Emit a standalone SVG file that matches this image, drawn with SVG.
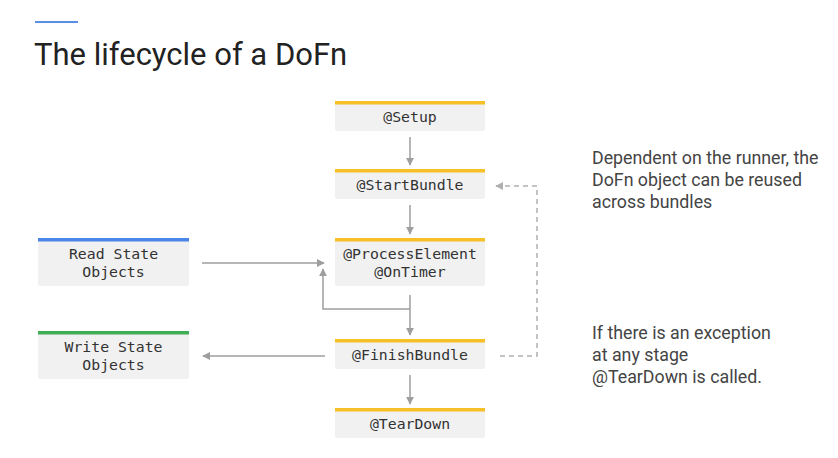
<svg xmlns="http://www.w3.org/2000/svg" width="838" height="458" viewBox="0 0 838 458">
<style>
.box{fill:#f1f1f1}
.ybar{fill:#f6c026}
.mono{font-family:"DejaVu Sans Mono","Liberation Mono",monospace;font-size:14.8px;fill:#333;text-anchor:middle}
.note{font-family:Roboto,"Liberation Sans",sans-serif;font-size:17.8px;fill:#444}
.ln{stroke:#9e9e9e;stroke-width:1.5;fill:none}
.dash{stroke:#b0b0b0;stroke-width:1.5;fill:none;stroke-dasharray:5,4}
</style>
<defs>
<marker id="ah" viewBox="0 0 10 10" refX="9" refY="5" markerWidth="8" markerHeight="8" markerUnits="userSpaceOnUse" orient="auto">
<path d="M0,0 L10,5 L0,10 z" fill="#9e9e9e"/>
</marker>
<marker id="ahd" viewBox="0 0 10 10" refX="9" refY="5" markerWidth="8" markerHeight="8" markerUnits="userSpaceOnUse" orient="auto">
<path d="M0,0 L10,5 L0,10 z" fill="#b0b0b0"/>
</marker>
</defs>
<rect width="838" height="458" fill="#ffffff"/>
<rect x="35" y="21" width="43" height="2" fill="#5b8fe6"/>
<text x="34" y="65" font-family="Roboto,'Liberation Sans',sans-serif" font-size="31" fill="#222">The lifecycle of a DoFn</text>

<g id="setup"><rect class="box" x="335" y="101" width="150" height="30" rx="2"/><rect class="ybar" x="335" y="101" width="150" height="3.5"/><text class="mono" x="410" y="122">@Setup</text></g>
<g id="startbundle"><rect class="box" x="335" y="169" width="150" height="30" rx="2"/><rect class="ybar" x="335" y="169" width="150" height="3.5"/><text class="mono" x="410" y="190">@StartBundle</text></g>
<g id="processelement"><rect class="box" x="335" y="238" width="150" height="48" rx="2"/><rect class="ybar" x="335" y="238" width="150" height="3.5"/><text class="mono" x="410" y="259">@ProcessElement</text><text class="mono" x="410" y="277">@OnTimer</text></g>
<g id="finishbundle"><rect class="box" x="335" y="339" width="150" height="30" rx="2"/><rect class="ybar" x="335" y="339" width="150" height="3.5"/><text class="mono" x="410" y="360">@FinishBundle</text></g>
<g id="teardown"><rect class="box" x="335" y="408" width="150" height="30" rx="2"/><rect class="ybar" x="335" y="408" width="150" height="3.5"/><text class="mono" x="410" y="429">@TearDown</text></g>
<g id="readstate"><rect class="box" x="38" y="238" width="151" height="48" rx="2"/><rect x="38" y="238" width="151" height="3.5" fill="#4a86e8"/><text class="mono" x="113.5" y="259">Read State</text><text class="mono" x="113.5" y="277">Objects</text></g>
<g id="writestate"><rect class="box" x="38" y="331" width="151" height="48" rx="2"/><rect x="38" y="331" width="151" height="3.5" fill="#3fae56"/><text class="mono" x="113.5" y="352">Write State</text><text class="mono" x="113.5" y="370">Objects</text></g>

<g id="note1" class="note"><text x="592" y="164">Dependent on the runner, the</text><text x="592" y="186">DoFn object can be reused</text><text x="592" y="208">across bundles</text></g>
<g id="note2" class="note"><text x="592" y="339">If there is an exception</text><text x="592" y="361">at any stage</text><text x="592" y="383">@TearDown is called.</text></g>

<g id="connectors">
<line class="ln" x1="410" y1="137" x2="410" y2="165" marker-end="url(#ah)"/>
<line class="ln" x1="410" y1="205" x2="410" y2="234" marker-end="url(#ah)"/>
<line class="ln" x1="202" y1="263" x2="324" y2="263" marker-end="url(#ah)"/>
<line class="ln" x1="410" y1="295" x2="410" y2="335" marker-end="url(#ah)"/>
<polyline class="ln" points="410,309 323,309 323,269" marker-end="url(#ah)"/>
<line class="ln" x1="325" y1="356" x2="203" y2="356" marker-end="url(#ah)"/>
<line class="ln" x1="410" y1="375" x2="410" y2="404" marker-end="url(#ah)"/>
<polyline class="dash" points="500,356 537,356 537,186 496,186" marker-end="url(#ahd)"/>
</g>
</svg>
